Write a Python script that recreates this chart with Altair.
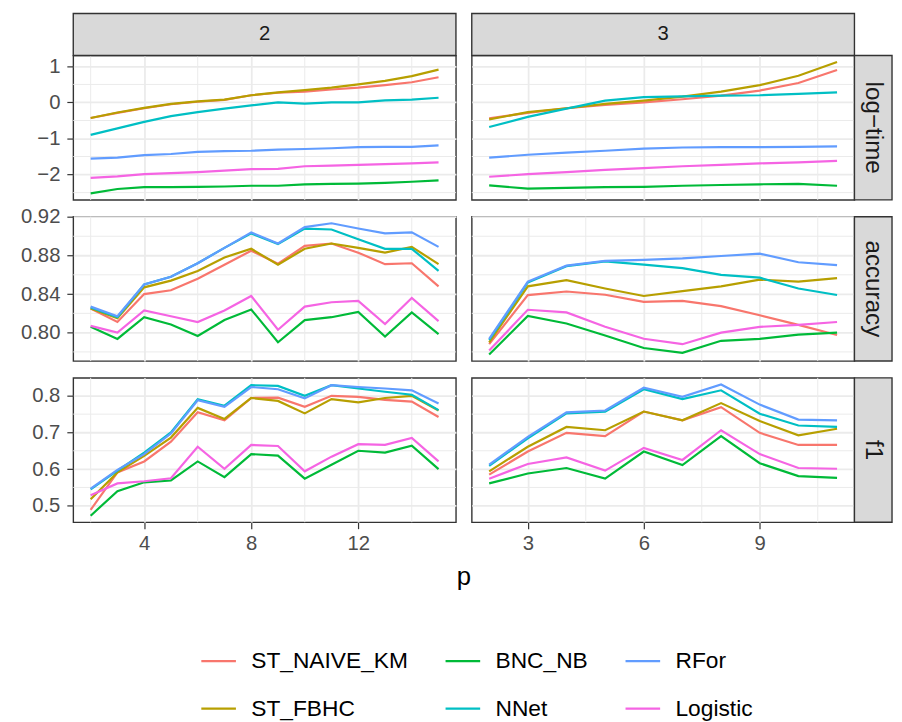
import altair as alt
import pandas as pd

FONT = "Liberation Sans"

models = ["ST_NAIVE_KM", "ST_FBHC", "BNC_NB", "NNet", "RFor", "Logistic"]
colors = ["#F8766D", "#B79F00", "#00BA38", "#00BFC4", "#619CFF", "#F564E3"]

column_labels = ["2", "3"]
row_labels = ["log\u2212time", "accuracy", "f1"]

p_col2 = list(range(2, 16))
p_col3 = list(range(2, 12))

# ---- log-time ----
logtime_col2 = {
    "ST_NAIVE_KM": [-0.43, -0.29, -0.16, -0.05, 0.02, 0.07, 0.20, 0.27, 0.30, 0.36, 0.41, 0.48, 0.56, 0.70],
    "ST_FBHC":     [-0.43, -0.28, -0.15, -0.04, 0.03, 0.08, 0.20, 0.28, 0.34, 0.41, 0.50, 0.60, 0.73, 0.91],
    "BNC_NB":      [-2.52, -2.40, -2.35, -2.35, -2.34, -2.33, -2.31, -2.31, -2.27, -2.26, -2.25, -2.23, -2.20, -2.16],
    "NNet":        [-0.90, -0.72, -0.54, -0.38, -0.27, -0.17, -0.08, 0.00, -0.03, 0.00, 0.00, 0.06, 0.08, 0.13],
    "RFor":        [-1.56, -1.53, -1.46, -1.43, -1.37, -1.35, -1.34, -1.31, -1.29, -1.27, -1.24, -1.23, -1.23, -1.19],
    "Logistic":    [-2.09, -2.05, -1.99, -1.96, -1.93, -1.89, -1.85, -1.84, -1.77, -1.75, -1.73, -1.71, -1.69, -1.66],
}
logtime_col3 = {
    "ST_NAIVE_KM": [-0.44, -0.29, -0.16, -0.07, 0.00, 0.09, 0.19, 0.33, 0.54, 0.90],
    "ST_FBHC":     [-0.47, -0.27, -0.16, -0.04, 0.05, 0.16, 0.30, 0.48, 0.74, 1.12],
    "BNC_NB":      [-2.30, -2.39, -2.37, -2.35, -2.34, -2.31, -2.29, -2.27, -2.26, -2.31],
    "NNet":        [-0.68, -0.40, -0.17, 0.05, 0.15, 0.17, 0.19, 0.20, 0.24, 0.28],
    "RFor":        [-1.53, -1.45, -1.39, -1.34, -1.28, -1.25, -1.24, -1.24, -1.23, -1.22],
    "Logistic":    [-2.06, -1.99, -1.93, -1.87, -1.82, -1.77, -1.73, -1.69, -1.66, -1.62],
}

# ---- accuracy ----
accuracy_col2 = {
    "ST_NAIVE_KM": [0.825, 0.811, 0.840, 0.844, 0.856, 0.8705, 0.885, 0.8715, 0.890, 0.8925, 0.883, 0.871, 0.872, 0.848],
    "ST_FBHC":     [0.825, 0.815, 0.847, 0.854, 0.864, 0.878, 0.887, 0.8705, 0.887, 0.8925, 0.888, 0.883, 0.889, 0.871],
    "BNC_NB":      [0.806, 0.7935, 0.816, 0.8085, 0.7965, 0.813, 0.824, 0.790, 0.813, 0.816, 0.8215, 0.796, 0.821, 0.7985],
    "NNet":        [0.826, 0.816, 0.850, 0.858, 0.872, 0.888, 0.903, 0.892, 0.908, 0.907, 0.897, 0.887, 0.887, 0.864],
    "RFor":        [0.827, 0.817, 0.850, 0.858, 0.872, 0.888, 0.904, 0.8925, 0.9095, 0.9135, 0.908, 0.903, 0.904, 0.889],
    "Logistic":    [0.807, 0.800, 0.823, 0.817, 0.811, 0.823, 0.838, 0.803, 0.827, 0.8315, 0.833, 0.809, 0.836, 0.812],
}
accuracy_col3 = {
    "ST_NAIVE_KM": [0.788, 0.839, 0.8427, 0.8393, 0.832, 0.833, 0.8275, 0.818, 0.808, 0.7976],
    "ST_FBHC":     [0.790, 0.848, 0.8545, 0.8458, 0.838, 0.843, 0.848, 0.855, 0.853, 0.8566],
    "BNC_NB":      [0.7773, 0.8173, 0.8095, 0.797, 0.784, 0.779, 0.7915, 0.7936, 0.798, 0.800],
    "NNet":        [0.7925, 0.852, 0.869, 0.874, 0.8705, 0.867, 0.860, 0.857, 0.8458, 0.839],
    "RFor":        [0.7935, 0.853, 0.8695, 0.8745, 0.8755, 0.877, 0.8795, 0.882, 0.873, 0.870],
    "Logistic":    [0.7814, 0.8237, 0.821, 0.806, 0.7936, 0.788, 0.800, 0.806, 0.808, 0.811],
}

# ---- f1 ----
f1_col2 = {
    "ST_NAIVE_KM": [0.489, 0.591, 0.621, 0.675, 0.755, 0.733, 0.794, 0.795, 0.770, 0.800, 0.797, 0.789, 0.784, 0.742],
    "ST_FBHC":     [0.518, 0.591, 0.636, 0.686, 0.767, 0.737, 0.794, 0.786, 0.752, 0.791, 0.782, 0.794, 0.800, 0.760],
    "BNC_NB":      [0.473, 0.540, 0.564, 0.569, 0.621, 0.578, 0.641, 0.637, 0.574, 0.612, 0.650, 0.645, 0.664, 0.600],
    "NNet":        [0.545, 0.596, 0.645, 0.700, 0.791, 0.773, 0.829, 0.827, 0.800, 0.829, 0.820, 0.811, 0.803, 0.761],
    "RFor":        [0.547, 0.598, 0.641, 0.697, 0.788, 0.770, 0.824, 0.818, 0.793, 0.829, 0.824, 0.820, 0.815, 0.779],
    "Logistic":    [0.529, 0.561, 0.567, 0.575, 0.661, 0.601, 0.666, 0.663, 0.594, 0.634, 0.668, 0.666, 0.685, 0.621],
}
f1_col3 = {
    "ST_NAIVE_KM": [0.585, 0.648, 0.699, 0.690, 0.757, 0.733, 0.769, 0.699, 0.666, 0.666],
    "ST_FBHC":     [0.594, 0.661, 0.715, 0.706, 0.757, 0.733, 0.780, 0.731, 0.692, 0.710],
    "BNC_NB":      [0.561, 0.588, 0.603, 0.574, 0.648, 0.611, 0.690, 0.616, 0.581, 0.576],
    "NNet":        [0.609, 0.684, 0.752, 0.757, 0.818, 0.791, 0.815, 0.751, 0.719, 0.715],
    "RFor":        [0.612, 0.688, 0.755, 0.760, 0.822, 0.797, 0.831, 0.776, 0.735, 0.733],
    "Logistic":    [0.574, 0.614, 0.632, 0.596, 0.658, 0.625, 0.706, 0.641, 0.603, 0.601],
}

# axis breaks
x_major_col2 = [4, 8, 12]
x_minor_col2 = [2, 6, 10, 14]
x_major_col3 = [3, 6, 9]
x_minor_col3 = [4.5, 7.5, 10.5]
y_major = [[-2, -1, 0, 1], [0.80, 0.84, 0.88, 0.92], [0.5, 0.6, 0.7, 0.8]]
y_minor = [[-2.5, -1.5, -0.5, 0.5], [0.78, 0.82, 0.86, 0.90], [0.55, 0.65, 0.75]]
y_format = ["d", ".2f", ".1f"]

W, H = 387, 146
STRIP_TOP = 42.5
STRIP_RIGHT = 38


def to_long(values, ps):
    rows = []
    for m in models:
        for p, v in zip(ps, values[m]):
            rows.append({"model": m, "p": p, "value": v})
    return pd.DataFrame(rows)


def expand(vals, f=0.05):
    lo, hi = min(vals), max(vals)
    r = hi - lo
    return [lo - f * r, hi + f * r]


panels = [[logtime_col2, logtime_col3], [accuracy_col2, accuracy_col3], [f1_col2, f1_col3]]
x_dom = [expand(p_col2), expand(p_col3)]
ps = [p_col2, p_col3]
x_major = [x_major_col2, x_major_col3]
x_minor = [x_minor_col2, x_minor_col3]

# legend is filled column-wise (3 columns x 2 rows), like ggplot
color_enc = alt.Color(
    "model:N",
    scale=alt.Scale(domain=models, range=colors),
    legend=alt.Legend(
        title=None, orient="none", legendX=128, legendY=593.5, columns=3,
        symbolType="stroke", symbolSize=1225, symbolStrokeWidth=2.3,
        labelFont=FONT, labelFontSize=23, labelColor="#000000",
        labelOffset=14, columnPadding=32, rowPadding=17, padding=0,
        labelLimit=400, offset=0,
    ),
)

cells = []
for r in range(3):
    all_vals = []
    for c in range(2):
        for m in models:
            all_vals += panels[r][c][m]
    ydom = expand(all_vals)
    for c in range(2):
        df = to_long(panels[r][c], ps[c])
        xs = alt.Scale(domain=x_dom[c], nice=False, zero=False)
        ys = alt.Scale(domain=ydom, nice=False, zero=False)
        show_x = r == 2
        show_y = c == 0
        x_axis = alt.Axis(values=x_major[c], grid=True, labels=show_x, ticks=show_x,
                          domain=False, title=None, format="d")
        y_axis = alt.Axis(values=y_major[r], grid=True, labels=show_y, ticks=show_y,
                          domain=False, title=None, format=y_format[r])
        xe = alt.X("p:Q", scale=xs, axis=x_axis, title=None)
        ye = alt.Y("value:Q", scale=ys, axis=y_axis, title=None)

        vminor = alt.Chart(pd.DataFrame({"p": x_minor[c]})).mark_rule(
            color="#EBEBEB", strokeWidth=1.0).encode(x=xe)
        hminor = alt.Chart(pd.DataFrame({"value": y_minor[r]})).mark_rule(
            color="#EBEBEB", strokeWidth=1.0).encode(y=ye)
        lines = alt.Chart(df).mark_line(strokeWidth=2.2).encode(
            x=xe, y=ye, color=color_enc, detail="model:N")
        layers = [vminor, hminor, lines]

        if r == 0:
            sdf = pd.DataFrame({"label": [column_labels[c]]})
            srect = alt.Chart(sdf).mark_rect(fill="#D9D9D9", stroke="#333333", strokeWidth=1.4).encode(
                x=alt.value(0), x2=alt.value(W), y=alt.value(-STRIP_TOP), y2=alt.value(0))
            stext = alt.Chart(sdf).mark_text(font=FONT, fontSize=20.5, color="#1A1A1A",
                                             baseline="middle", align="center").encode(
                x=alt.value(W / 2), y=alt.value(-STRIP_TOP / 2), text="label:N")
            layers += [srect, stext]
        if c == 1:
            rdf = pd.DataFrame({"label": [row_labels[r]]})
            rrect = alt.Chart(rdf).mark_rect(fill="#D9D9D9", stroke="#333333", strokeWidth=1.4).encode(
                x=alt.value(W), x2=alt.value(W + STRIP_RIGHT), y=alt.value(0), y2=alt.value(H))
            rtext = alt.Chart(rdf).mark_text(font=FONT, fontSize=24.5, color="#1A1A1A", angle=90,
                                             baseline="middle", align="center").encode(
                x=alt.value(W + STRIP_RIGHT / 2), y=alt.value(H / 2), text="label:N")
            layers += [rrect, rtext]
        if r == 2 and c == 0:
            tdf = pd.DataFrame({"label": ["p"]})
            ttext = alt.Chart(tdf).mark_text(font=FONT, fontSize=26, color="#000000",
                                             baseline="alphabetic", align="center").encode(
                x=alt.value(395), y=alt.value(209), text="label:N")
            layers += [ttext]

        cells.append(alt.layer(*layers).properties(width=W, height=H))

chart = alt.concat(
    *cells, columns=2, spacing={"row": 17, "column": 16}, bounds="flush"
).properties(
    padding={"left": 11, "top": 0, "right": 0, "bottom": 0}
).configure_view(
    stroke="#333333", strokeWidth=1.4
).configure_axis(
    labelFont=FONT, labelFontSize=20.5, labelColor="#4D4D4D",
    tickColor="#333333", tickWidth=1.2, tickSize=6.5,
    gridColor="#EBEBEB", gridWidth=1.8,
).configure_axisX(labelPadding=5).configure_axisY(labelPadding=7)

chart.save("out.html", embed_options={"renderer": "svg", "actions": False})
